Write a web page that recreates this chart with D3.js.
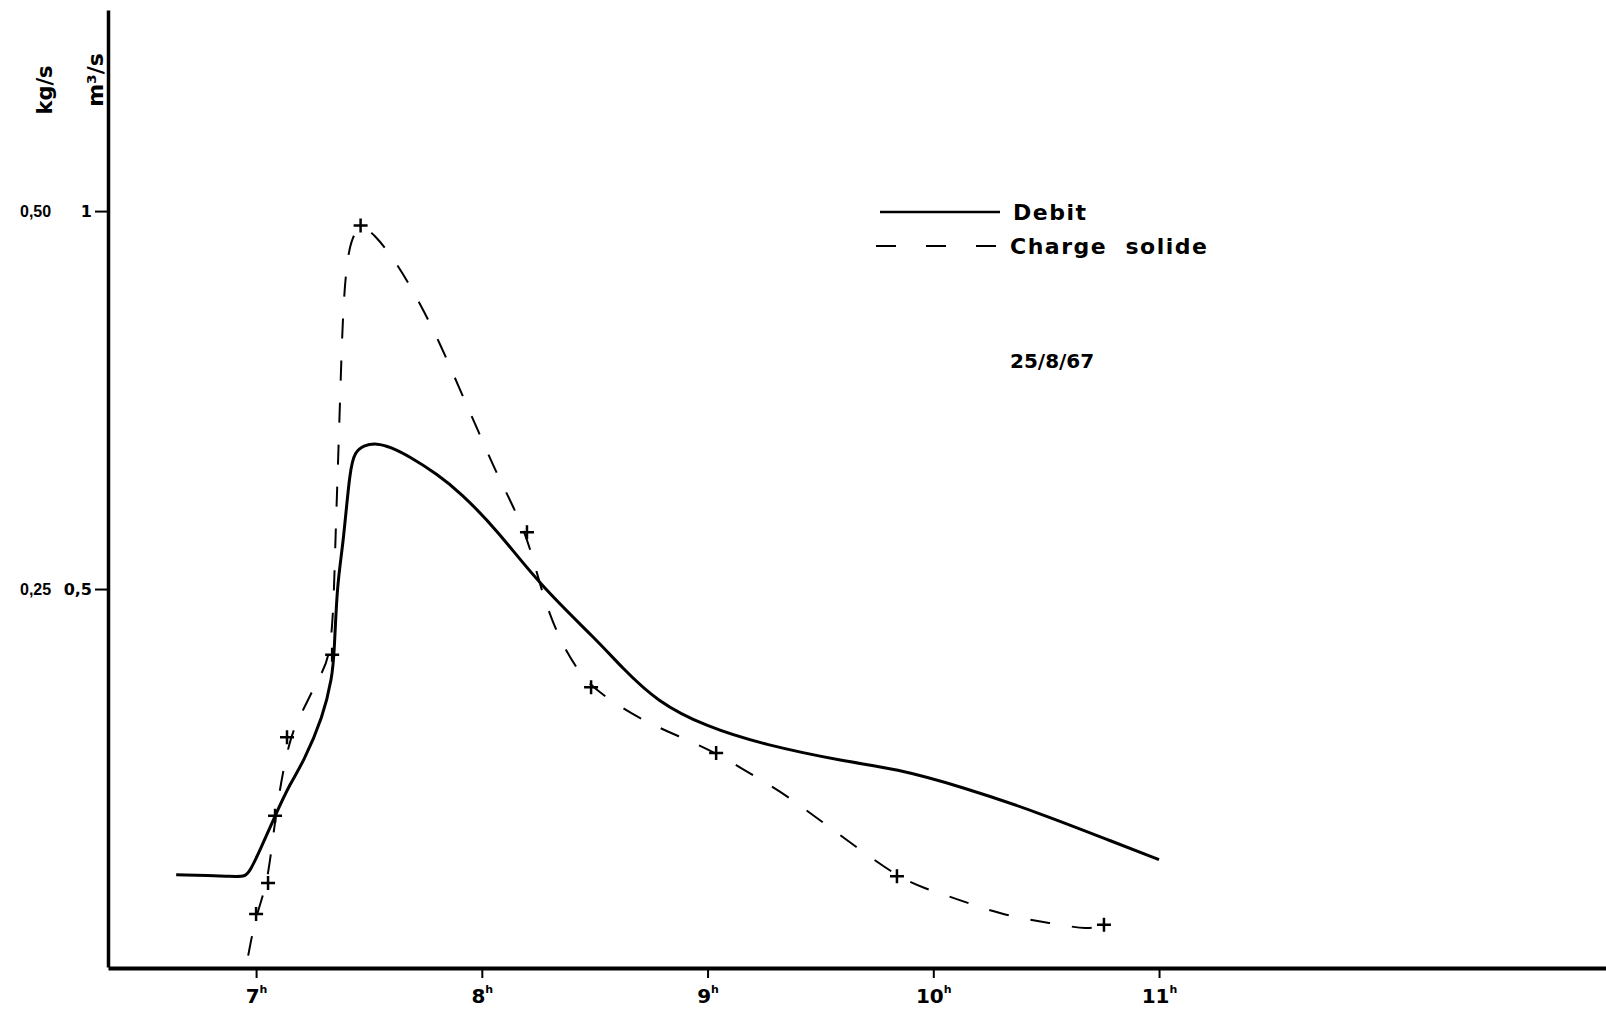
<!DOCTYPE html>
<html>
<head>
<meta charset="utf-8">
<script src="https://cdn.jsdelivr.net/npm/d3@7"></script>
<style>
  body { margin: 0; background: #fff; }
  text { font-family: "DejaVu Sans", sans-serif; font-weight: bold; fill: #000; }
</style>
</head>
<body>
<div id="chart"></div>
<script>
// hour ticks and y ticks
var hourTicks = [7, 8, 9, 10, 11];
var m3Ticks = [0.5, 1];
var m3Labels = ["0,5", "1"];
var kgLabels = ["0,25", "0,50"];

// Debit (m3/s)
var debitHours = [6.646, 6.900, 6.951, 6.975, 7.018, 7.084, 7.151, 7.208, 7.297, 7.337, 7.346, 7.359, 7.385, 7.416, 7.439, 7.474, 7.536, 7.594, 7.682, 7.802, 7.904, 8.068, 8.258, 8.511, 8.621, 8.776, 8.993, 9.250, 9.622, 9.826, 10.132, 10.468, 10.810, 11.000];
var debitValues = [0.122, 0.120, 0.119, 0.128, 0.155, 0.200, 0.243, 0.270, 0.331, 0.384, 0.413, 0.508, 0.556, 0.661, 0.681, 0.690, 0.693, 0.688, 0.675, 0.652, 0.628, 0.578, 0.505, 0.432, 0.396, 0.351, 0.318, 0.294, 0.271, 0.263, 0.238, 0.204, 0.164, 0.142];

// Charge solide curve (plotted on the m3/s scale)
var chargeHours = [6.965, 7.000, 7.053, 7.084, 7.146, 7.204, 7.283, 7.337, 7.350, 7.359, 7.372, 7.385, 7.403, 7.425, 7.463, 7.518, 7.625, 7.726, 7.815, 7.904, 7.983, 8.072, 8.200, 8.260, 8.340, 8.420, 8.484, 8.688, 8.891, 9.038, 9.148, 9.317, 9.485, 9.658, 9.839, 9.959, 10.096, 10.300, 10.522, 10.690, 10.756];
var chargeValues = [0.015, 0.070, 0.111, 0.200, 0.304, 0.337, 0.386, 0.413, 0.552, 0.631, 0.750, 0.873, 0.935, 0.966, 0.981, 0.972, 0.931, 0.878, 0.825, 0.763, 0.710, 0.648, 0.574, 0.500, 0.435, 0.395, 0.370, 0.329, 0.303, 0.283, 0.263, 0.234, 0.197, 0.159, 0.120, 0.104, 0.091, 0.069, 0.058, 0.049, 0.056];

// measured points (+)
var sampleHours = [7.000, 7.053, 7.084, 7.137, 7.337, 7.463, 8.200, 8.484, 9.038, 9.839, 10.756];
var sampleValues = [0.070, 0.111, 0.200, 0.304, 0.413, 0.981, 0.575, 0.370, 0.283, 0.120, 0.056];

var width = 1606, height = 1009;

var svg = d3.select("#chart").append("svg")
    .attr("width", width)
    .attr("height", height);

var x = d3.scaleLinear().domain([6.344, 12.98]).range([108, 1606]);
var y = d3.scaleLinear().domain([0, 1.266]).range([967, 10]);

// x axis
var xAxis = svg.append("g")
    .attr("transform", "translate(0,968)")
    .call(d3.axisBottom(x).tickValues(hourTicks).tickSize(10).tickSizeOuter(0).tickPadding(4));
xAxis.select(".domain").attr("stroke-width", 4);
xAxis.selectAll(".tick line").attr("stroke-width", 2);
xAxis.selectAll(".tick text")
    .attr("font-size", 20)
    .attr("font-family", "Liberation Sans, Arial, sans-serif")
    .attr("dy", "1.05em")
    .text(function(d) { return d; })
    .append("tspan")
    .attr("font-size", 11)
    .attr("dy", "-0.9em")
    .text("h");

// y axis (m3/s)
var yAxis = svg.append("g")
    .attr("transform", "translate(108,0)")
    .call(d3.axisLeft(y).tickValues(m3Ticks).tickSize(13).tickSizeOuter(0).tickPadding(3)
      .tickFormat(function(d, i) { return m3Labels[i]; }));
yAxis.select(".domain").attr("stroke-width", 3.5);
yAxis.selectAll(".tick line").attr("stroke-width", 2);
yAxis.selectAll(".tick text")
    .attr("font-size", 16)
    .attr("font-family", "Liberation Sans, Arial, sans-serif");

// kg/s labels
svg.selectAll(".kg")
    .data(m3Ticks)
    .enter().append("text")
    .attr("class", "kg")
    .attr("x", 20)
    .attr("y", function(d) { return y(d); })
    .attr("dy", "0.35em")
    .attr("font-size", 16)
    .style("font-family", "Liberation Sans, Arial, sans-serif")
    .text(function(d, i) { return kgLabels[i]; });

// unit labels
svg.append("text")
    .attr("transform", "translate(52,90) rotate(-90)")
    .attr("text-anchor", "middle")
    .attr("font-size", 21)
    .text("kg/s");
svg.append("text")
    .attr("transform", "translate(103,80) rotate(-90)")
    .attr("text-anchor", "middle")
    .attr("font-size", 22)
    .text("m³/s");

var line = d3.line()
    .x(function(d) { return x(d[0]); })
    .y(function(d) { return y(d[1]); })
    .curve(d3.curveBasis);

svg.append("path")
    .datum(d3.zip(debitHours, debitValues))
    .attr("d", line)
    .attr("fill", "none")
    .attr("stroke", "#000")
    .attr("stroke-width", 3)
    .attr("stroke-linejoin", "round");

svg.append("path")
    .datum(d3.zip(chargeHours, chargeValues))
    .attr("d", line)
    .attr("fill", "none")
    .attr("stroke", "#000")
    .attr("stroke-width", 2)
    .attr("stroke-dasharray", "20,22");

// + markers
svg.selectAll(".plus")
    .data(d3.zip(sampleHours, sampleValues))
    .enter().append("path")
    .attr("class", "plus")
    .attr("d", "M-7,0H7M0,-7V7")
    .attr("transform", function(d) { return "translate(" + x(d[0]) + "," + y(d[1]) + ")"; })
    .attr("stroke", "#000")
    .attr("stroke-width", 2.5);

// legend
var legend = svg.append("g");
legend.append("line")
    .attr("x1", 880).attr("x2", 1000).attr("y1", 212).attr("y2", 212)
    .attr("stroke", "#000").attr("stroke-width", 2.5);
legend.append("text")
    .attr("x", 1013).attr("y", 220)
    .attr("font-size", 22)
    .attr("letter-spacing", 1.5)
    .text("Debit");
legend.append("line")
    .attr("x1", 876).attr("x2", 996).attr("y1", 246).attr("y2", 246)
    .attr("stroke", "#000").attr("stroke-width", 2)
    .attr("stroke-dasharray", "20,30");
legend.append("text")
    .attr("x", 1010).attr("y", 254)
    .attr("font-size", 22)
    .attr("letter-spacing", 1.5)
    .style("white-space", "pre")
    .text("Charge  solide");

svg.append("text")
    .attr("x", 1010).attr("y", 368)
    .attr("font-size", 20)
    .text("25/8/67");
</script>
</body>
</html>
